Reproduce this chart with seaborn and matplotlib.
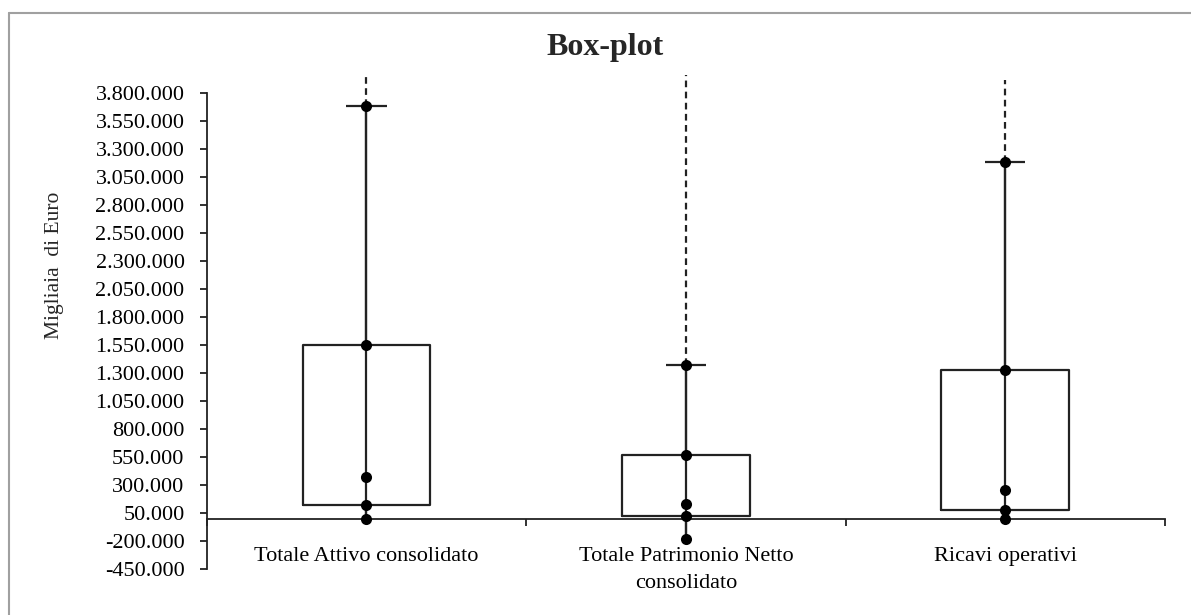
import matplotlib
matplotlib.use('Agg')
import matplotlib.pyplot as plt
from matplotlib.lines import Line2D
from matplotlib.ticker import FuncFormatter, FixedLocator
import seaborn as sns
import pandas as pd
import numpy as np

# Summary statistics (migliaia di euro)
categories = ['Totale Attivo consolidato', 'Totale Patrimonio Netto\nconsolidato', 'Ricavi operativi']
mins = [-5000, -182000, -5000]
q1s = [124000, 27000, 80000]
medians = [377000, 130000, 258000]
q3s = [1553000, 570000, 1330000]
maxs = [3690000, 1374000, 3184000]
upper_ext = [3960000, 3960000, 3920000]   # dashed lines (values off the scale)

y_ticks = list(range(-450000, 3800001, 250000))


def it_fmt(v, pos):
    return f'{v:,.0f}'.replace(',', '.')


def main():
    sns.set_style('white')
    plt.rcParams['font.family'] = ['Liberation Serif', 'DejaVu Serif']

    # long-form table: the five summary values per category
    rows = []
    for i, cat in enumerate(categories):
        for v in (mins[i], q1s[i], medians[i], q3s[i], maxs[i]):
            rows.append({'cat': cat, 'val': v})
    df = pd.DataFrame(rows)

    fig = plt.figure(figsize=(11.91, 6.15), dpi=100)
    ax = fig.add_axes([0.1736, 0.0743, 0.8046, 0.8104])

    ink = '#222222'
    sns.boxplot(data=df, x='cat', y='val', order=categories, whis=(0, 100), width=0.40,
                fill=False, color=ink, linewidth=1.6, showcaps=False,
                medianprops={'linewidth': 0}, ax=ax)

    pos = np.arange(len(categories))
    # solid line through the whole range, dashed continuation, top cap
    ax.vlines(pos, mins, maxs, color=ink, lw=1.6, zorder=3)
    ax.vlines(pos, maxs, upper_ext, color=ink, lw=1.6, linestyles=(0, (3, 2)), zorder=3)
    ax.hlines(maxs, pos - 0.063, pos + 0.063, color=ink, lw=1.6, zorder=3)

    sns.stripplot(data=df, x='cat', y='val', order=categories, jitter=False, size=8,
                  color='black', linewidth=0, ax=ax, zorder=4)

    ax.set_xlim(-0.5, 2.5)
    ax.set_ylim(-450000, 4000000)
    ax.set_xlabel('')
    ax.set_ylabel('')

    # y axis
    ax.yaxis.set_major_locator(FixedLocator(y_ticks))
    ax.yaxis.set_major_formatter(FuncFormatter(it_fmt))
    ax.tick_params(axis='y', direction='out', length=5, width=1.3, color=ink,
                   pad=11, labelsize=16, labelcolor='black', left=True)
    ax.spines['left'].set_bounds(-450000, 3800000)
    ax.spines['left'].set_color(ink)
    ax.spines['left'].set_linewidth(1.3)

    # x axis crossing at zero
    ax.spines['bottom'].set_position(('data', 0))
    ax.spines['bottom'].set_color(ink)
    ax.spines['bottom'].set_linewidth(1.3)
    ax.spines['top'].set_visible(False)
    ax.spines['right'].set_visible(False)
    ax.xaxis.set_major_locator(FixedLocator([-0.5, 0.5, 1.5, 2.5]))
    ax.xaxis.set_major_formatter(FuncFormatter(lambda v, p: ''))
    ax.xaxis.set_minor_locator(FixedLocator(pos))
    ax.set_xticklabels(categories, minor=True)
    ax.tick_params(axis='x', which='major', direction='out', length=5, width=1.3,
                   color=ink, bottom=True)
    ax.tick_params(axis='x', which='minor', length=0, pad=20, labelsize=16,
                   labelcolor='black')
    for lab in ax.get_xticklabels(minor=True):
        lab.set_linespacing(1.6)

    fig.text(605 / 1191, 1 - 48 / 615, 'Box-plot', ha='center', va='center',
             fontsize=23, fontweight='bold')
    fig.text(55 / 1191, 1 - 265 / 615, 'Migliaia  di Euro', rotation=90, ha='center',
             va='center', fontsize=15.5)

    # chart-area border (left and top edges visible)
    fig.add_artist(Line2D([9 / 1191, 9 / 1191], [0, 1 - 13 / 615], color='#a0a0a0', lw=1.5,
                          transform=fig.transFigure))
    fig.add_artist(Line2D([9 / 1191, 1], [1 - 13 / 615, 1 - 13 / 615], color='#a0a0a0', lw=1.5,
                          transform=fig.transFigure))

    fig.savefig('out.png', dpi=100)
    plt.close(fig)


if __name__ == '__main__':
    main()
